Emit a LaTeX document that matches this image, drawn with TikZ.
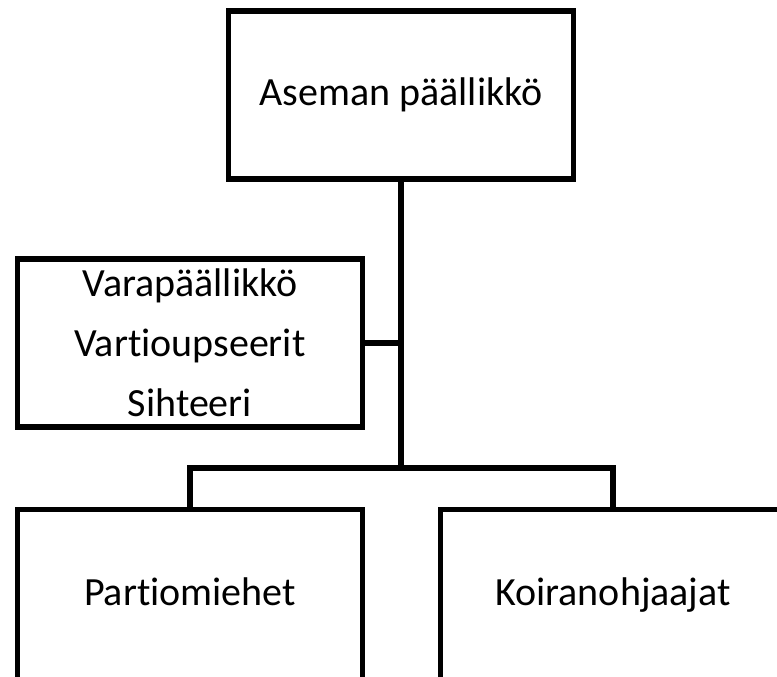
\documentclass[tikz,border=0pt]{standalone}
\usepackage{fontspec}
\setmainfont{Carlito}[Ligatures = NoCommon]
\begin{document}
\begin{tikzpicture}[x = 1pt, y = 1pt, line width = 5.5pt]
      \tikzstyle{every node} = [inner sep = 0pt, font = \fontsize{40}{60}\selectfont];
      \tikzstyle{post} = [draw, rectangle, align = center, minimum width = 345pt, minimum height = 168pt];
      \tikzstyle{cutpost} = [post, anchor = north, minimum height = 190pt, text height = 20pt, text depth = 18pt];
      \useasboundingbox (0, 0) rectangle (777, 677);
      \clip (0, 0) rectangle (777, 677);
      \node(boss) [post] at (401, 582) {Aseman päällikkö};
      \node(staff) [post] at (190, 334) {Varapäällikkö\\Vartioupseerit\\Sihteeri};
      \node(patrol) [cutpost] at (190, 170) {Partiomiehet};
      \node(dogs) [cutpost] at (613, 170) {Koiranohjaajat};
      \coordinate(hub) at (401, 209);
      \path[]
      (boss) edge (hub)
      (staff.east) edge (staff.east -| hub);
      \draw (patrol.north) |- (hub) -| (dogs.north);
    \end{tikzpicture}
\end{document}
